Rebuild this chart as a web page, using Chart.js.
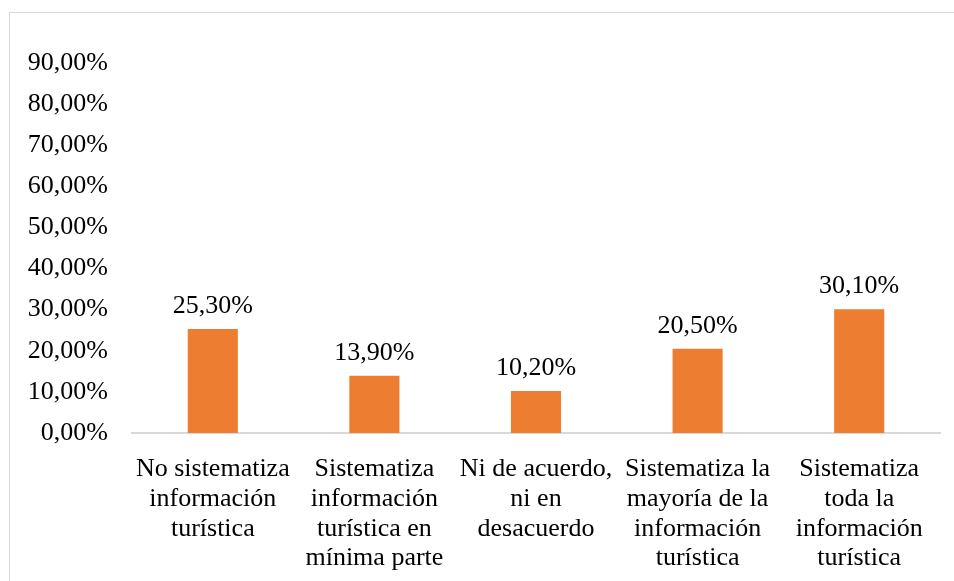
<!DOCTYPE html>
<html>
<head>
<meta charset="utf-8">
<script src="https://cdn.jsdelivr.net/npm/chart.js@4"></script>
<style>
  html, body { margin: 0; padding: 0; background: #fff; }
  #wrap { position: relative; width: 954px; height: 581px; overflow: hidden; }
  #frame { position: absolute; left: 9px; top: 12px; width: 960px; height: 600px; border: 1px solid #d9d9d9; box-sizing: border-box; }
  canvas { position: absolute; left: 0; top: 0; }
</style>
</head>
<body>
<div id="wrap">
  <div id="frame"></div>
  <canvas id="myChart" width="954" height="581"></canvas>
</div>
<script>
const categories = [
    ["No sistematiza", "información", "turística"],
    ["Sistematiza", "información", "turística en", "mínima parte"],
    ["Ni de acuerdo,", "ni en", "desacuerdo"],
    ["Sistematiza la", "mayoría de la", "información", "turística"],
    ["Sistematiza", "toda la", "información", "turística"]
];
const values = [25.3, 13.9, 10.2, 20.5, 30.1];
const yTicks = [0, 10, 20, 30, 40, 50, 60, 70, 80, 90];

function pct(v) {
    return v.toFixed(2).replace(".", ",") + "%";
}

const fontFamily = "'Liberation Serif', 'Times New Roman', serif";

// value labels above the bars
const barLabels = {
    id: "barLabels",
    afterDatasetsDraw(chart) {
        const ctx = chart.ctx;
        const meta = chart.getDatasetMeta(0);
        ctx.save();
        ctx.font = "26px " + fontFamily;
        ctx.fillStyle = "#000";
        ctx.textAlign = "center";
        ctx.textBaseline = "middle";
        meta.data.forEach((bar, i) => {
            ctx.fillText(pct(values[i]), bar.x, bar.y - 23);
        });
        ctx.restore();
    }
};

const ctx = document.getElementById("myChart").getContext("2d");
new Chart(ctx, {
    type: "bar",
    data: {
        labels: categories,
        datasets: [{
            data: values,
            backgroundColor: "#ED7D31",
            barPercentage: 0.31,
            categoryPercentage: 1
        }]
    },
    options: {
        responsive: false,
        animation: false,
        layout: { padding: { left: 0, right: 14, top: 63, bottom: 0 } },
        plugins: {
            legend: { display: false },
            tooltip: { enabled: false }
        },
        scales: {
            x: {
                grid: { display: false, drawTicks: false },
                border: { display: true, color: "#d9d9d9", width: 2 },
                ticks: {
                    color: "#000",
                    font: { family: fontFamily, size: 26, lineHeight: 1.15 },
                    padding: 21,
                    maxRotation: 0,
                    autoSkip: false
                },
                afterFit(scale) { scale.height = 148; }
            },
            y: {
                min: 0,
                max: 90,
                afterBuildTicks(scale) { scale.ticks = yTicks.map(v => ({ value: v })); },
                grid: { display: false, drawTicks: false },
                border: { display: false },
                ticks: {
                    color: "#000",
                    font: { family: fontFamily, size: 26 },
                    padding: 24,
                    callback: (v) => pct(v)
                },
                afterFit(scale) { scale.width = 132; }
            }
        }
    },
    plugins: [barLabels]
});
</script>
</body>
</html>
